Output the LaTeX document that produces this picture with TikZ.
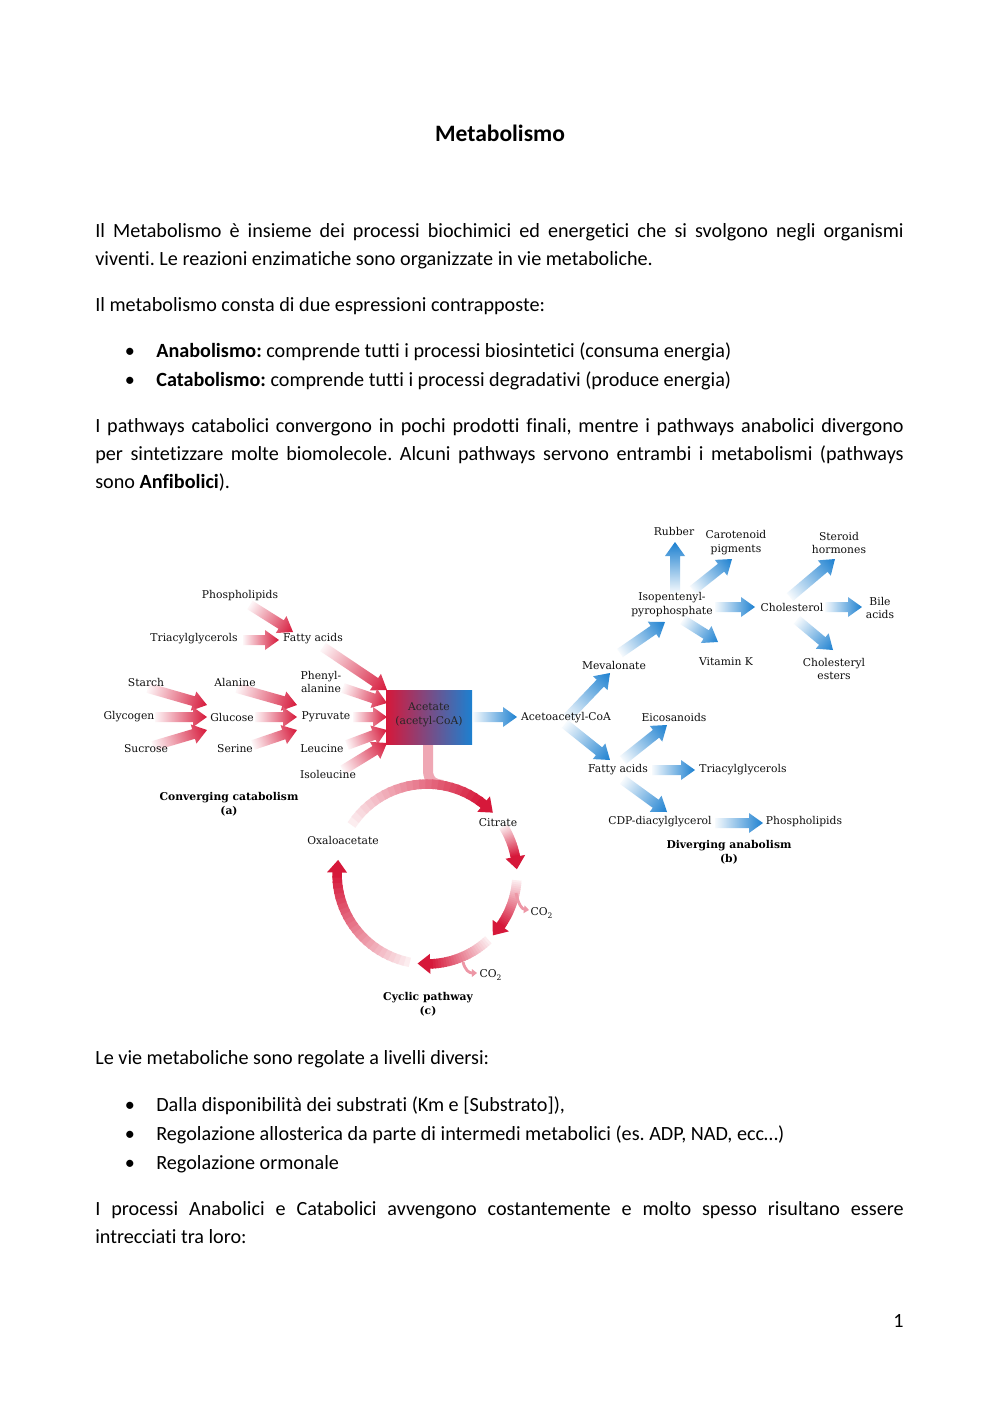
\documentclass[tikz,border=0pt]{standalone}
\usepackage{fontspec}
\setmainfont{Carlito}[Ligatures=NoCommon]
\newfontfamily\diag{DejaVu Serif}
\usetikzlibrary{arrows.meta}
\frenchspacing
\definecolor{cred}{RGB}{214,24,58}
\definecolor{cblue}{RGB}{28,128,208}
\definecolor{cmid}{RGB}{246,238,244}
\definecolor{dtext}{RGB}{15,15,15}
% fat gradient arrow: x1 y1 x2 y2 colour
\newcommand{\fatar}[5]{%
  \pgfmathsetmacro\fdx{#3-#1}%
  \pgfmathsetmacro\fdy{#4-#2}%
  \pgfmathsetmacro\flen{veclen(\fdx,\fdy)}%
  \pgfmathsetmacro\fang{atan2(-\fdy,\fdx)}%
  \pgfmathsetmacro\fhb{\flen-14}%
  \begin{scope}[transform canvas={shift={(#1,#2)},rotate=\fang}]
    \shade[left color=#5!4!white, middle color=#5!65!white, right color=#5, draw=none]
      (0,-5) -- (\fhb,-5) -- (\fhb,-10) -- (\flen,0) -- (\fhb,10) -- (\fhb,5) -- (0,5) -- cycle;
  \end{scope}}
% arc of the cycle with gradient: start angle, end angle (clockwise)
\newcommand{\cycarc}[2]{%
  \pgfmathsetmacro\cb{#2+8}%
  \foreach \i in {0,...,23}{%
    \pgfmathsetmacro\ta{#1+(\cb-#1)*\i/24}%
    \pgfmathsetmacro\tb{#1+(\cb-#1)*(\i+1.4)/24}%
    \pgfmathsetmacro\pc{8+92*\i/23}%
    \draw[line width=9.5*0.595pt, cred!\pc!white]
      ({427+90*cos(\ta)},{874-90*sin(\ta)}) -- ({427+90*cos(\tb)},{874-90*sin(\tb)});
  }%
  \fill[cred] ({427+100*cos(\cb)},{874-100*sin(\cb)}) -- ({427+90*cos(#2)},{874-90*sin(#2)})
     -- ({427+80*cos(\cb)},{874-80*sin(\cb)}) -- cycle;}
\begin{document}
\begin{tikzpicture}[x=0.595pt,y=-0.595pt,
  body/.style={anchor=base west, inner sep=0pt, font=\fontsize{12}{14}\selectfont},
  bul/.style={anchor=base, inner sep=0pt, font=\fontsize{12}{14}\selectfont},
  lab/.style={inner sep=0pt, font=\diag\fontsize{6.4}{8.3}\selectfont, text=dtext, align=center},
  blab/.style={inner sep=0pt, font=\diag\bfseries\fontsize{6.4}{8.6}\selectfont, text=black, align=center}]
\useasboundingbox (0,0) rectangle (1000,1414);
\fill[white] (0,0) rectangle (1000,1414);

% ---------- text ----------
\node[anchor=base, inner sep=0pt, font=\bfseries\fontsize{14}{16}\selectfont] (title) at (500,141) {Metabolismo};
\node[body] (l1) at (95,237) {\makebox[481pt][s]{Il Metabolismo è insieme dei processi biochimici ed energetici che si svolgono negli organismi}};
\node[body] (l2) at (95,265) {viventi. Le reazioni enzimatiche sono organizzate in vie metaboliche.};
\node[body] (l3) at (95,311) {Il metabolismo consta di due espressioni contrapposte:};
\node[bul] (b1) at (130,357) {•};
\node[body] (l4) at (156,357) {\textbf{Anabolismo:} comprende tutti i processi biosintetici (consuma energia)};
\node[bul] (b2) at (130,386) {•};
\node[body] (l5) at (156,386) {\textbf{Catabolismo:} comprende tutti i processi degradativi (produce energia)};
\node[body] (l6) at (95,432) {\makebox[481pt][s]{I pathways catabolici convergono in pochi prodotti finali, mentre i pathways anabolici divergono}};
\node[body] (l7) at (95,460) {\makebox[481pt][s]{per sintetizzare molte biomolecole. Alcuni pathways servono entrambi i metabolismi (pathways}};
\node[body] (l8) at (95,488) {sono \textbf{Anfibolici}).};

\node[body] (l9) at (95,1064) {Le vie metaboliche sono regolate a livelli diversi:};
\node[bul] (b3) at (130,1111) {•};
\node[body] (l10) at (156,1111) {Dalla disponibilità dei substrati (Km e [Substrato]),};
\node[bul] (b4) at (130,1140) {•};
\node[body] (l11) at (156,1140) {Regolazione allosterica da parte di intermedi metabolici (es. ADP, NAD, ecc…)};
\node[bul] (b5) at (130,1169) {•};
\node[body] (l12) at (156,1169) {Regolazione ormonale};
\node[body] (l13) at (95,1215) {\makebox[481pt][s]{I processi Anabolici e Catabolici avvengono costantemente e molto spesso risultano essere}};
\node[body] (l14) at (95,1243) {intrecciati tra loro:};
\node[anchor=base east, inner sep=0pt, font=\fontsize{12}{14}\selectfont] (pg) at (904,1327) {1};

% ---------- converging catabolism arrows ----------
\fatar{250}{605}{293}{632}{cred}
\fatar{243}{640}{279}{640}{cred}
\fatar{323}{647}{387}{690}{cred}
\fatar{148}{688}{207}{705}{cred}
\fatar{155}{717}{207}{717}{cred}
\fatar{153}{746}{207}{730}{cred}
\fatar{237}{688}{297}{705}{cred}
\fatar{255}{717}{297}{717}{cred}
\fatar{253}{745}{297}{730}{cred}
\fatar{343}{688}{387}{703}{cred}
\fatar{353}{717}{387}{717}{cred}
\fatar{347}{745}{387}{730}{cred}
\fatar{343}{770}{387}{743}{cred}

% ---------- cycle ----------
\draw[line width=10*0.595pt, cred!38!white] (428,744) -- (428,770) .. controls (428,781) and (434,784) .. (443,785);
\cycarc{147}{43}
\cycarc{32}{3}
\cycarc{-4}{-43}
\cycarc{-47}{-96}
\cycarc{-101}{-189}
\draw[line width=2.8*0.595pt, cred!45!white, -{Triangle[length=3pt,width=4.5pt]}] (516,893) .. controls (518,904) and (522,909) .. (529,910);
\draw[line width=2.8*0.595pt, cred!45!white, -{Triangle[length=3pt,width=4.5pt]}] (463,962) .. controls (465,970) and (469,973) .. (477,973);

% ---------- acetate box ----------
\shade[left color=cred, middle color=cmid, right color=cblue] (386,690) rectangle (472,744);
\node[lab, text=black!85] (acetate) at (429,715) {Acetate\\(acetyl-CoA)};

% ---------- diverging anabolism arrows ----------
\fatar{473}{717}{517}{717}{cblue}
\fatar{567}{718}{610}{673}{cblue}
\fatar{565}{724}{610}{760}{cblue}
\fatar{620}{653}{665}{622}{cblue}
\fatar{675}{593}{675}{542}{cblue}
\fatar{693}{590}{732}{559}{cblue}
\fatar{715}{607}{755}{607}{cblue}
\fatar{683}{620}{718}{642}{cblue}
\fatar{790}{597}{835}{559}{cblue}
\fatar{825}{607}{862}{607}{cblue}
\fatar{797}{620}{833}{650}{cblue}
\fatar{623}{760}{667}{725}{cblue}
\fatar{652}{770}{695}{770}{cblue}
\fatar{623}{780}{667}{812}{cblue}
\fatar{715}{823}{763}{823}{cblue}

% ---------- labels ----------
\node[lab] (phosL) at (240,596) {Phospholipids};
\node[lab] (triL) at (194,639) {Triacylglycerols};
\node[lab] (faL) at (313,639) {Fatty acids};
\node[lab] (starch) at (146,682) {Starch};
\node[lab] (alanine) at (235,682) {Alanine};
\node[lab] (phe) at (321,682) {Phenyl-\\alanine};
\node[lab] (glycogen) at (129,717) {Glycogen};
\node[lab] (glucose) at (232,717) {Glucose};
\node[lab] (pyruvate) at (326,717) {Pyruvate};
\node[lab] (sucrose) at (146,749) {Sucrose};
\node[lab] (serine) at (235,749) {Serine};
\node[lab] (leucine) at (322,749) {Leucine};
\node[lab] (isoleu) at (328,774) {Isoleucine};
\node[blab] (convA) at (229,804) {Converging catabolism\\(a)};

\node[lab] (rubber) at (674,531) {Rubber};
\node[lab] (carot) at (736,543) {Carotenoid\\pigments};
\node[lab] (steroid) at (839,543) {Steroid\\hormones};
\node[lab] (ipp) at (672,605) {Isopentenyl-\\pyrophosphate};
\node[lab] (chol) at (792,607) {Cholesterol};
\node[lab] (bile) at (880,608) {Bile\\acids};
\node[lab] (meva) at (614,665) {Mevalonate};
\node[lab] (vitk) at (726,662) {Vitamin K};
\node[lab] (cholest) at (834,669) {Cholesteryl\\esters};
\node[lab] (acac) at (566,718) {Acetoacetyl-CoA};
\node[lab] (eico) at (674,717) {Eicosanoids};
\node[lab] (faR) at (618,770) {Fatty acids};
\node[lab] (triR) at (743,770) {Triacylglycerols};
\node[lab] (cdp) at (660,822) {CDP-diacylglycerol};
\node[lab] (phosR) at (804,822) {Phospholipids};
\node[blab] (divB) at (729,852) {Diverging anabolism\\(b)};

\node[lab] (citrate) at (498,823) {Citrate};
\node[lab] (oxalo) at (343,840) {Oxaloacetate};
\node[lab] (co2a) at (542,913) {CO\textsubscript{2}};
\node[lab] (co2b) at (491,975) {CO\textsubscript{2}};
\node[blab] (cyc) at (428,1004) {Cyclic pathway\\(c)};
\end{tikzpicture}
\end{document}
